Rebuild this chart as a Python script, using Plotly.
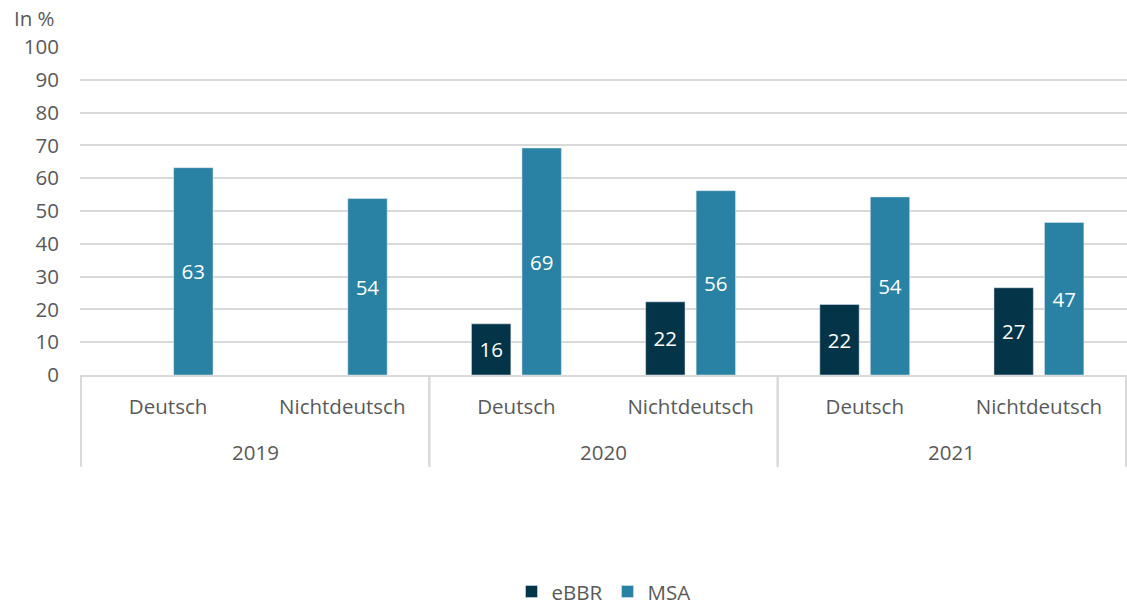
import plotly.graph_objects as go

years = ["2019", "2019", "2020", "2020", "2021", "2021"]
groups = ["Deutsch", "Nichtdeutsch", "Deutsch", "Nichtdeutsch", "Deutsch", "Nichtdeutsch"]
ebbr = [None, None, 15.6, 22.3, 21.5, 26.6]
msa = [63.2, 53.8, 69.2, 56.2, 54.3, 46.5]
y_ticks = list(range(0, 101, 10))

_TEXT = "#595959"
_GRID = "#d9d9d9"
_FONT = "Open Sans, sans-serif"
_SIZE = 20.5

# unique category per bar pair, shown as the group name; years go underneath
cats = [f"{y}|{g}" for y, g in zip(years, groups)]

fig = go.Figure()
fig.add_trace(go.Bar(x=cats, y=ebbr, name="eBBR", marker_color="#043448",
                     texttemplate="%{y:.0f}", textposition="inside", insidetextanchor="middle",
                     textfont=dict(color="white", size=_SIZE)))
fig.add_trace(go.Bar(x=cats, y=msa, name="MSA", marker_color="#2981a3",
                     texttemplate="%{y:.0f}", textposition="inside", insidetextanchor="middle",
                     textfont=dict(color="white", size=_SIZE)))

annotations = [dict(text="In %", xref="paper", yref="paper", x=-0.065, y=1.088,
                    xanchor="left", yanchor="middle", showarrow=False,
                    font=dict(size=_SIZE, color=_TEXT))]
shapes = []
for yr in dict.fromkeys(years):
    idx = [i for i, y in enumerate(years) if y == yr]
    annotations.append(dict(text=yr, xref="x", yref="paper", x=sum(idx) / len(idx), y=-0.235,
                            xanchor="center", yanchor="middle", showarrow=False,
                            font=dict(size=_SIZE, color=_TEXT)))
    for edge in (min(idx) - 0.5, max(idx) + 0.5):
        shapes.append(dict(type="line", xref="x", yref="paper", x0=edge, x1=edge, y0=0, y1=-0.28,
                           line=dict(color=_GRID, width=2)))

fig.update_layout(
    width=1127,
    height=610,
    barmode="group",
    bargap=0.42,
    bargroupgap=0.22,
    paper_bgcolor="white",
    plot_bgcolor="white",
    font=dict(family=_FONT, size=_SIZE, color=_TEXT),
    margin=dict(l=80, r=0, t=47, b=235, autoexpand=False),
    showlegend=True,
    legend=dict(orientation="h", x=0.5, xanchor="center", yref="container", y=0.03, yanchor="middle",
                font=dict(size=_SIZE, color=_TEXT), traceorder="normal"),
    uniformtext=dict(minsize=10, mode="show"),
    annotations=annotations,
    shapes=shapes,
)
fig.update_yaxes(range=[0, 100], tickvals=y_ticks, gridcolor=_GRID, gridwidth=2,
                 zeroline=False, showline=False, ticks="", ticklabelstandoff=20)
fig.update_xaxes(type="category", tickvals=cats, ticktext=groups, showline=True, linecolor=_GRID,
                 linewidth=2, ticks="", ticklabelstandoff=12)

# drop the default page margin so the figure fills the window exactly
fig.write_html("out.html", config={"displayModeBar": False},
               post_script="document.body.style.margin = '0';")
